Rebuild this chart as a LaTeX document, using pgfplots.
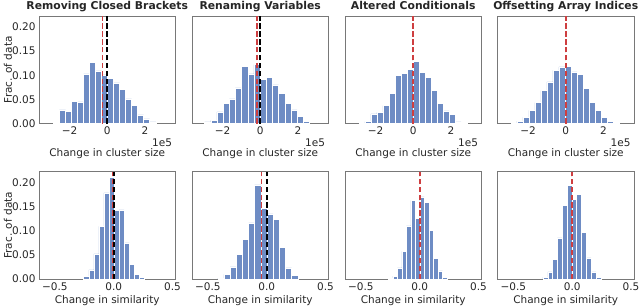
\documentclass[border=0pt]{standalone}
\usepackage{fontspec}
\setmainfont{DejaVu Sans}
\usepackage{pgfplots}
\pgfplotsset{compat=1.18}
\definecolor{barblue}{RGB}{110,140,196}
\definecolor{vredc}{RGB}{206,62,64}
\definecolor{framegray}{RGB}{120,120,120}
\definecolor{txt}{RGB}{38,38,38}
\pgfplotsset{
  every axis title shift=0pt,
  panel/.style={
    scale only axis, width=136.5pt, height=107.5pt,
    anchor=south west,
    ymin=0, ymax=0.2226,
    axis line style={framegray, line width=0.8pt},
    major tick length=0pt,
    tick label style={font=\fontsize{10.5}{12}\selectfont, text=txt},
    label style={font=\fontsize{10.5}{12}\selectfont, text=txt},
    title style={font=\fontsize{10.8}{12}\selectfont\bfseries, text=txt, at={(axis description cs:0.5,1)}, anchor=base, yshift=6.5pt},
    /pgf/number format/assume math mode=true,
    ytick=\empty,
  },
  toprow/.style={panel, xmin=-3.63, xmax=3.63, xtick={-2,0,2}, xticklabels={−2,0,2},
    xlabel={Change in cluster size},
    xlabel style={at={(axis description cs:0.5,-0.284)}, anchor=center},
    extra description/.code={\node[anchor=east, font=\fontsize{10.5}{12}\selectfont, text=txt] at (1,-0.181) {1e5};}},
  botrow/.style={panel, xmin=-0.635, xmax=0.525, xtick={-0.5,0,0.5}, xticklabels={−0.5,0.0,0.5},
    xlabel={Change in similarity},
    xlabel style={at={(axis description cs:0.5,-0.202)}, anchor=center}},
  leftcol/.style={ytick={0,0.05,0.10,0.15,0.20}, yticklabels={0.00,0.05,0.10,0.15,0.20},
    ylabel={Frac. of data},
    ylabel style={at={(axis description cs:-0.227,0.5)}, anchor=center}},
  hist/.style={ybar interval, fill=barblue, draw=white, line width=0.5pt},
  vblack/.style={black, line width=1.6pt, dash pattern=on 5.5pt off 2.4pt},
  vred/.style={vredc, line width=1.6pt, dash pattern=on 5.5pt off 2.4pt},
}
\begin{document}
\begin{tikzpicture}[x=1pt,y=1pt]
\path[use as bounding box] (0,0) rectangle (640,306);
% ---------- top row ----------
\begin{axis}[toprow, leftcol, at={(39pt,182.5pt)}, title={Removing Closed Brackets}]
\addplot[hist] coordinates {(-2.86,0.001) (-2.54,0.0284) (-2.22,0.025) (-1.90,0.0465) (-1.58,0.045) (-1.26,0.103) (-0.94,0.126) (-0.62,0.109) (-0.30,0.1005) (0.02,0.094) (0.34,0.084) (0.66,0.0714) (0.98,0.051) (1.30,0.038) (1.62,0.018) (1.94,0.0097) (2.26,0.0035) (2.58,0)};
\addplot[vblack] coordinates {(0,0) (0,0.2226)};
\addplot[vred] coordinates {(-0.25,0) (-0.25,0.2226)};
\end{axis}
\begin{axis}[toprow, at={(192pt,182.5pt)}, title={Renaming Variables}]
\addplot[hist] coordinates {(-2.96,0.0035) (-2.632,0.007) (-2.304,0.024) (-1.976,0.042) (-1.648,0.051) (-1.32,0.074) (-0.992,0.118) (-0.664,0.103) (-0.336,0.122) (-0.008,0.092) (0.32,0.095) (0.648,0.080) (0.976,0.062) (1.304,0.042) (1.632,0.028) (1.96,0.014) (2.288,0.004) (2.616,0)};
\addplot[vblack] coordinates {(0,0) (0,0.2226)};
\addplot[vred] coordinates {(-0.17,0) (-0.17,0.2226)};
\end{axis}
\begin{axis}[toprow, at={(345pt,182.5pt)}, title={Altered Conditionals}]
\addplot[hist] coordinates {(-2.89,0.001) (-2.57,0.004) (-2.25,0.020) (-1.93,0.023) (-1.61,0.037) (-1.29,0.062) (-0.97,0.099) (-0.65,0.104) (-0.33,0.112) (-0.01,0.129) (0.31,0.106) (0.63,0.095) (0.95,0.068) (1.27,0.042) (1.59,0.026) (1.91,0.019) (2.23,0.0035) (2.55,0.001) (2.87,0)};
\addplot[vblack] coordinates {(0,0) (0,0.2226)};
\addplot[vred] coordinates {(0,0) (0,0.2226)};
\end{axis}
\begin{axis}[toprow, at={(497.5pt,182.5pt)}, title={Offsetting Array Indices}]
\addplot[hist] coordinates {(-2.92,0.001) (-2.60,0.005) (-2.28,0.0125) (-1.96,0.027) (-1.64,0.043) (-1.32,0.068) (-1.00,0.086) (-0.68,0.110) (-0.36,0.117) (-0.04,0.119) (0.28,0.107) (0.60,0.101) (0.92,0.072) (1.24,0.044) (1.56,0.027) (1.88,0.012) (2.20,0.005) (2.52,0.001) (2.84,0)};
\addplot[vblack] coordinates {(0,0) (0,0.2226)};
\addplot[vred] coordinates {(0,0) (0,0.2226)};
\end{axis}
% ---------- bottom row ----------
\begin{axis}[botrow, leftcol, at={(39pt,27pt)}]
\addplot[hist] coordinates {(-0.255,0.0055) (-0.212,0.019) (-0.169,0.052) (-0.126,0.109) (-0.083,0.1785) (-0.040,0.211) (0.003,0.142) (0.046,0.143) (0.089,0.075) (0.132,0.030) (0.175,0.010) (0.218,0.003) (0.261,0)};
\addplot[vblack] coordinates {(0,0) (0,0.2226)};
\addplot[vred] coordinates {(-0.011,0) (-0.011,0.2226)};
\end{axis}
\begin{axis}[botrow, at={(192pt,27pt)}]
\addplot[hist] coordinates {(-0.416,0.002) (-0.3637,0.0096) (-0.3114,0.025) (-0.2591,0.051) (-0.2068,0.082) (-0.1545,0.116) (-0.1022,0.195) (-0.0499,0.146) (0.0024,0.135) (0.0547,0.124) (0.107,0.065) (0.1593,0.023) (0.2116,0.007) (0.2639,0)};
\addplot[vblack] coordinates {(0,0) (0,0.2226)};
\addplot[vred] coordinates {(-0.045,0) (-0.045,0.2226)};
\end{axis}
\begin{axis}[botrow, at={(345pt,27pt)}]
\addplot[hist] coordinates {(-0.266,0.001) (-0.2277,0.006) (-0.1894,0.023) (-0.1511,0.057) (-0.1128,0.110) (-0.0745,0.163) (-0.0362,0.126) (0.0021,0.170) (0.0404,0.158) (0.0787,0.100) (0.117,0.043) (0.1553,0.017) (0.1936,0.004) (0.2319,0)};
\addplot[vblack] coordinates {(0,0) (0,0.2226)};
\addplot[vred] coordinates {(0,0) (0,0.2226)};
\end{axis}
\begin{axis}[botrow, at={(497.5pt,27pt)}]
\addplot[hist] coordinates {(-0.249,0.004) (-0.208,0.0145) (-0.167,0.040) (-0.126,0.085) (-0.085,0.152) (-0.044,0.194) (-0.003,0.165) (0.038,0.176) (0.079,0.097) (0.120,0.044) (0.161,0.0145) (0.202,0.004) (0.243,0)};
\addplot[vblack] coordinates {(0,0) (0,0.2226)};
\addplot[vred] coordinates {(0,0) (0,0.2226)};
\end{axis}
\end{tikzpicture}
\end{document}
